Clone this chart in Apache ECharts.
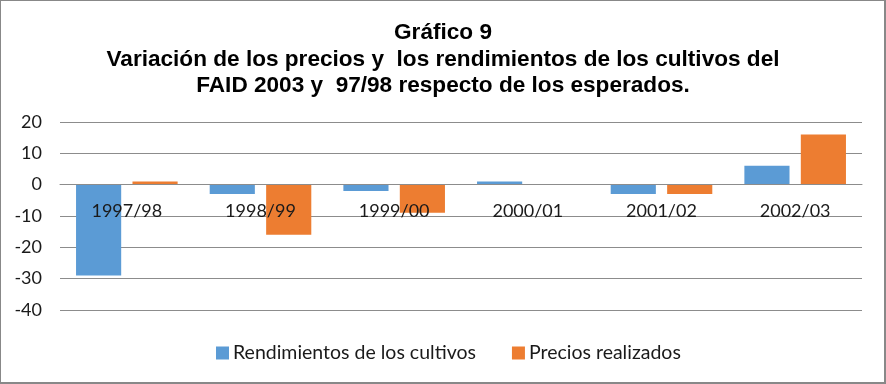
<!DOCTYPE html>
<html>
<head>
<meta charset="utf-8">
<script src="https://cdn.jsdelivr.net/npm/echarts@6/dist/echarts.min.js"></script>
<style>
html,body{margin:0;padding:0;background:#fff;}
#frame{position:absolute;left:0;top:0;width:886px;height:384px;box-sizing:border-box;border:1px solid #888;border-right-width:2px;border-bottom-width:2px;}
#chart{position:absolute;left:0;top:0;width:886px;height:384px;}
</style>
</head>
<body>
<div id="frame"></div>
<div id="chart"></div>
<script>
var titleLines = ['Gráfico 9', 'Variación de los precios y  los rendimientos de los cultivos del', 'FAID 2003 y  97/98 respecto de los esperados.'];
var categories = ['1997/98', '1998/99', '1999/00', '2000/01', '2001/02', '2002/03'];
var seriesNames = ['Rendimientos de los cultivos', 'Precios realizados'];
var rendimientos = [-29, -3, -2, 1, -3, 6];
var precios = [1, -16, -9, 0, -3, 16];
var yMin = -40, yMax = 20, yStep = 10;

var gridTop = 122, gridBottom = 74, chartH = 384;
var plotH = chartH - gridTop - gridBottom;
// move the category axis up to the zero line of the value axis
var zeroOffset = -plotH * (0 - yMin) / (yMax - yMin);

var chart = echarts.init(document.getElementById('chart'), null, {renderer: 'canvas'});
var font = 'Lato, "Open Sans", sans-serif';
chart.setOption({
  animation: false,
  backgroundColor: 'transparent',
  title: {
    text: titleLines.join('\n'),
    left: 'center',
    top: 15,
    textStyle: {fontFamily: '"Liberation Sans", Arial, sans-serif', fontWeight: 'bold', fontSize: 22.6, lineHeight: 26.5, color: '#000'}
  },
  legend: {
    data: seriesNames,
    top: 343,
    left: 216,
    padding: 0,
    itemWidth: 13,
    itemHeight: 13,
    itemGap: 36,
    icon: 'rect',
    textStyle: {fontFamily: font, fontSize: 19.5, color: '#1a1a1a', padding: [0,0,0,-1]}
  },
  grid: {left: 60, right: 24, top: gridTop, bottom: gridBottom, containLabel: false},
  xAxis: {
    type: 'category',
    data: categories,
    z: 10,
    offset: zeroOffset,
    axisLine: {show: true, onZero: false, lineStyle: {color: '#8c8c8c', width: 1}},
    axisTick: {show: false},
    axisLabel: {fontFamily: font, fontSize: 18, color: '#1a1a1a', margin: 18}
  },
  yAxis: {
    type: 'value',
    min: yMin, max: yMax, interval: yStep,
    axisLine: {show: false},
    axisTick: {show: false},
    splitLine: {lineStyle: {color: '#8c8c8c', width: 1}},
    axisLabel: {fontFamily: font, fontSize: 18, color: '#1a1a1a', margin: 18}
  },
  series: [
    {name: seriesNames[0], type: 'bar', data: rendimientos, barGap: '25%', barCategoryGap: '24%', itemStyle: {color: '#5B9BD5'}},
    {name: seriesNames[1], type: 'bar', data: precios, barGap: '25%', barCategoryGap: '24%', itemStyle: {color: '#ED7D31'}}
  ]
});
</script>
</body>
</html>
